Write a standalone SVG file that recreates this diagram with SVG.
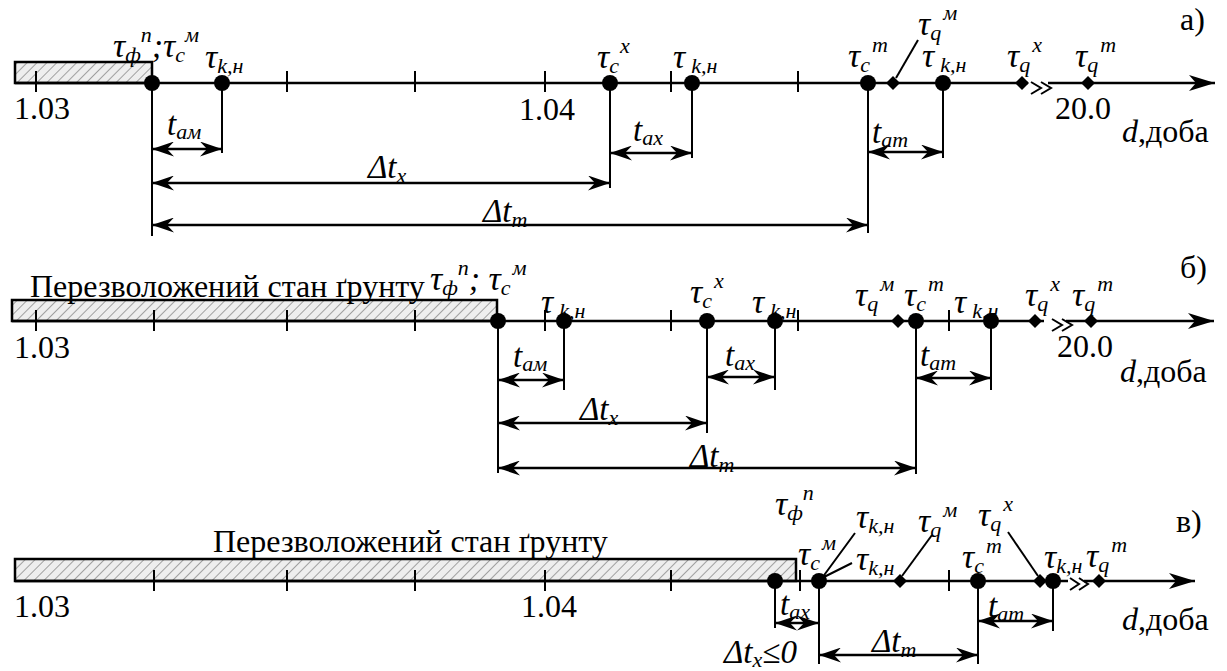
<svg xmlns="http://www.w3.org/2000/svg" width="1227" height="671" viewBox="0 0 1227 671">
<style>
.n{font-size:32px}
.tau{font-size:34px;font-style:italic}
.t{font-size:33px;font-style:italic}
.s{font-size:22px}
.ax{stroke:#000;stroke-width:2.5;fill:none}
.axa{stroke:#000;stroke-width:2.5;fill:none;marker-end:url(#ahead)}
.tk{stroke:#000;stroke-width:2;fill:none}
.ext{stroke:#000;stroke-width:2;fill:none}
.dim{stroke:#000;stroke-width:2.5;fill:none;marker-start:url(#darr);marker-end:url(#darr)}
.ld{stroke:#000;stroke-width:2;fill:none}
.brk{stroke:#000;stroke-width:2;fill:none}
.hat{fill:url(#hatch);stroke:#000;stroke-width:2.5}
.pt{fill:#000}
</style>
<defs>
<pattern id="hatch" patternUnits="userSpaceOnUse" width="7" height="7" patternTransform="rotate(45)">
<rect width="7" height="7" fill="#eeeeee"/>
<line x1="0" y1="0" x2="0" y2="7" stroke="#a0a0a0" stroke-width="2"/>
</pattern>
<marker id="darr" markerUnits="userSpaceOnUse" viewBox="0 0 22 15" markerWidth="22" markerHeight="15" refX="22" refY="7.5" orient="auto-start-reverse">
<path d="M0,0 L22,7.5 L0,15 L7,7.5 Z" fill="#000"/>
</marker>
<marker id="ahead" markerUnits="userSpaceOnUse" viewBox="0 0 26 16" markerWidth="26" markerHeight="16" refX="26" refY="8" orient="auto">
<path d="M0,0 L26,8 L0,16 L7,8 Z" fill="#000"/>
</marker>
<path id="dia" d="M0,-7 L7,0 L0,7 L-7,0 Z"/>
</defs>

<!-- ================= Panel a ================= -->
<g id="panel-a">
  <g id="a-axis">
    <rect class="hat" x="15" y="62" width="137" height="21"/>
    <path class="ax" d="M15,83 H1028"/>
    <path class="axa" d="M1048,83 H1215"/>
    <path class="tk" d="M36,71 V92 M287,71 V92 M415,71 V92 M545,71 V92 M671,71 V92 M798,71 V92"/>
    <path class="brk" d="M1031,82 L1041,88 L1031,94 M1041,82 L1051,88 L1041,94"/>
    <text class="n" style="font-family:'Liberation Serif'" x="14" y="119">1.03</text>
    <text class="n" style="font-family:'Liberation Serif'" x="519" y="120">1.04</text>
    <text class="n" style="font-family:'Liberation Serif'" x="1055" y="119">20.0</text>
    <text class="n" style="font-family:'Liberation Serif'" x="1122" y="142"><tspan font-style="italic">d</tspan>,доба</text>
    <text class="n" style="font-family:'Liberation Serif'" x="1180" y="30">а)</text>
  </g>
  <g id="a-n1"><circle class="pt" cx="152" cy="83" r="8"/>
    <text class="tau" style="font-family:'Liberation Serif'" x="113" y="57">τ<tspan class="s" dy="5">ф</tspan><tspan class="s" dy="-20">n</tspan><tspan dy="15">;τ</tspan><tspan class="s" dy="5">c</tspan><tspan class="s" dy="-20">м</tspan></text></g>
  <g id="a-n2"><circle class="pt" cx="222" cy="83" r="8"/>
    <text class="tau" style="font-family:'Liberation Serif'" x="205" y="68">τ<tspan class="s" dy="5">k,н</tspan></text></g>
  <g id="a-n3"><circle class="pt" cx="610" cy="83" r="8"/>
    <text class="tau" style="font-family:'Liberation Serif'" x="597" y="68">τ<tspan class="s" dy="5">c</tspan><tspan class="s" dy="-20" dx="1">x</tspan></text></g>
  <g id="a-n4"><circle class="pt" cx="692" cy="83" r="8"/>
    <text class="tau" style="font-family:'Liberation Serif'" x="673" y="68">τ<tspan class="s" dy="5" dx="6">k,н</tspan></text></g>
  <g id="a-n5"><circle class="pt" cx="868" cy="83" r="8"/>
    <text class="tau" style="font-family:'Liberation Serif'" x="848" y="67">τ<tspan class="s" dy="5">c</tspan><tspan class="s" dy="-20" dx="2">m</tspan></text></g>
  <g id="a-n6"><use href="#dia" x="893" y="83"/>
    <path class="ld" d="M918,40 L896,78"/>
    <text class="tau" style="font-family:'Liberation Serif'" x="918" y="35">τ<tspan class="s" dy="5">q</tspan><tspan class="s" dy="-20" dx="2">м</tspan></text></g>
  <g id="a-n7"><circle class="pt" cx="943" cy="83" r="8"/>
    <text class="tau" style="font-family:'Liberation Serif'" x="922" y="67">τ<tspan class="s" dy="5" dx="6">k,н</tspan></text></g>
  <g id="a-n8"><use href="#dia" x="1022" y="83"/>
    <text class="tau" style="font-family:'Liberation Serif'" x="1007" y="67">τ<tspan class="s" dy="5">q</tspan><tspan class="s" dy="-20" dx="2">x</tspan></text></g>
  <g id="a-n9"><use href="#dia" x="1088" y="83"/>
    <text class="tau" style="font-family:'Liberation Serif'" x="1075" y="67">τ<tspan class="s" dy="5">q</tspan><tspan class="s" dy="-20" dx="2">m</tspan></text></g>
  <g id="a-connectors">
    <path class="ext" d="M152,83 V236 M222,83 V153 M610,83 V188 M692,83 V158 M868,83 V233 M943,83 V158"/>
    <path class="dim" d="M152,149 H222"/>
    <path class="dim" d="M610,153 H692"/>
    <path class="dim" d="M868,152 H943"/>
    <path class="dim" d="M152,183 H610"/>
    <path class="dim" d="M152,225 H868"/>
    <text class="t" style="font-family:'Liberation Serif'" x="167" y="135">t<tspan class="s" dy="4">ам</tspan></text>
    <text class="t" style="font-family:'Liberation Serif'" x="633" y="141">t<tspan class="s" dy="4">ax</tspan></text>
    <text class="t" style="font-family:'Liberation Serif'" x="872" y="143">t<tspan class="s" dy="4">am</tspan></text>
    <text class="t" style="font-family:'Liberation Serif'" x="368" y="178">Δt<tspan class="s" dy="5">x</tspan></text>
    <text class="t" style="font-family:'Liberation Serif'" x="483" y="222">Δt<tspan class="s" dy="5">m</tspan></text>
  </g>
</g>

<!-- ================= Panel b ================= -->
<g id="panel-b">
  <g id="b-axis">
    <rect class="hat" x="12" y="300" width="485" height="21"/>
    <path class="ax" d="M12,321 H1044"/>
    <path class="axa" d="M1066,321 H1214"/>
    <path class="tk" d="M36,310 V331 M154,310 V331 M287,310 V331 M415,310 V331 M545,310 V331 M671,310 V331 M798,310 V331 M949,310 V331"/>
    <path class="brk" d="M1052,319 L1062,325 L1052,331 M1062,319 L1072,325 L1062,331"/>
    <text class="n" style="font-family:'Liberation Serif'" x="30" y="297">Перезволожений стан ґрунту</text>
    <text class="n" style="font-family:'Liberation Serif'" x="14" y="358">1.03</text>
    <text class="n" style="font-family:'Liberation Serif'" x="1057" y="357">20.0</text>
    <text class="n" style="font-family:'Liberation Serif'" x="1120" y="382"><tspan font-style="italic">d</tspan>,доба</text>
    <text class="n" style="font-family:'Liberation Serif'" x="1180" y="278">б)</text>
  </g>
  <g id="b-n1"><circle class="pt" cx="498" cy="321" r="8"/>
    <text class="tau" style="font-family:'Liberation Serif'" x="430" y="290">τ<tspan class="s" dy="5">ф</tspan><tspan class="s" dy="-20">n</tspan><tspan dy="15">; τ</tspan><tspan class="s" dy="5">c</tspan><tspan class="s" dy="-20" dx="2">м</tspan></text></g>
  <g id="b-n2"><circle class="pt" cx="564" cy="321" r="8"/>
    <text class="tau" style="font-family:'Liberation Serif'" x="541" y="313">τ<tspan class="s" dy="5" dx="6">k,н</tspan></text></g>
  <g id="b-n3"><circle class="pt" cx="707" cy="321" r="8"/>
    <text class="tau" style="font-family:'Liberation Serif'" x="690" y="303">τ<tspan class="s" dy="5">c</tspan><tspan class="s" dy="-20" dx="2">x</tspan></text></g>
  <g id="b-n4"><circle class="pt" cx="775" cy="321" r="8"/>
    <text class="tau" style="font-family:'Liberation Serif'" x="752" y="313">τ<tspan class="s" dy="5" dx="6">k,н</tspan></text></g>
  <g id="b-n5"><use href="#dia" x="898" y="321"/>
    <text class="tau" style="font-family:'Liberation Serif'" x="855" y="306">τ<tspan class="s" dy="5">q</tspan><tspan class="s" dy="-20" dx="2">м</tspan></text></g>
  <g id="b-n6"><circle class="pt" cx="916" cy="321" r="8"/>
    <text class="tau" style="font-family:'Liberation Serif'" x="904" y="306">τ<tspan class="s" dy="5">c</tspan><tspan class="s" dy="-20" dx="2">m</tspan></text></g>
  <g id="b-n7"><circle class="pt" cx="991" cy="321" r="8"/>
    <text class="tau" style="font-family:'Liberation Serif'" x="954" y="313">τ<tspan class="s" dy="5" dx="6">k,н</tspan></text></g>
  <g id="b-n8"><use href="#dia" x="1035" y="321"/>
    <text class="tau" style="font-family:'Liberation Serif'" x="1025" y="306">τ<tspan class="s" dy="5">q</tspan><tspan class="s" dy="-20" dx="2">x</tspan></text></g>
  <g id="b-n9"><use href="#dia" x="1091" y="321"/>
    <text class="tau" style="font-family:'Liberation Serif'" x="1072" y="306">τ<tspan class="s" dy="5">q</tspan><tspan class="s" dy="-20" dx="2">m</tspan></text></g>
  <g id="b-connectors">
    <path class="ext" d="M498,321 V473 M564,321 V390 M707,321 V433 M775,321 V390 M916,321 V474 M991,321 V390"/>
    <path class="dim" d="M498,380 H564"/>
    <path class="dim" d="M707,377 H775"/>
    <path class="dim" d="M916,378 H991"/>
    <path class="dim" d="M498,423 H707"/>
    <path class="dim" d="M498,468 H916"/>
    <text class="t" style="font-family:'Liberation Serif'" x="513" y="367">t<tspan class="s" dy="4">ам</tspan></text>
    <text class="t" style="font-family:'Liberation Serif'" x="725" y="366">t<tspan class="s" dy="4">ax</tspan></text>
    <text class="t" style="font-family:'Liberation Serif'" x="920" y="366">t<tspan class="s" dy="4">am</tspan></text>
    <text class="t" style="font-family:'Liberation Serif'" x="580" y="420">Δt<tspan class="s" dy="5">x</tspan></text>
    <text class="t" style="font-family:'Liberation Serif'" x="690" y="467">Δt<tspan class="s" dy="5">m</tspan></text>
  </g>
</g>

<!-- ================= Panel c ================= -->
<g id="panel-c">
  <g id="c-axis">
    <rect class="hat" x="15" y="559" width="781" height="22"/>
    <path class="ax" d="M15,581 H1068"/>
    <path class="axa" d="M1084,581 H1195"/>
    <path class="tk" d="M154,570 V591 M287,570 V591 M415,570 V591 M545,570 V591 M671,570 V591 M800,570 V591 M949,570 V591"/>
    <path class="brk" d="M1070,578 L1079,584 L1070,590 M1079,578 L1088,584 L1079,590"/>
    <text class="n" style="font-family:'Liberation Serif'" x="213" y="552">Перезволожений стан ґрунту</text>
    <text class="n" style="font-family:'Liberation Serif'" x="14" y="617">1.03</text>
    <text class="n" style="font-family:'Liberation Serif'" x="521" y="617">1.04</text>
    <text class="n" style="font-family:'Liberation Serif'" x="1122" y="630"><tspan font-style="italic">d</tspan>,доба</text>
    <text class="n" style="font-family:'Liberation Serif'" x="1176" y="532">в)</text>
  </g>
  <g id="c-n1"><circle class="pt" cx="775" cy="581" r="8"/></g>
  <g id="c-n2"><circle class="pt" cx="819" cy="581" r="8"/>
    <text class="tau" style="font-family:'Liberation Serif'" x="775" y="515">τ<tspan class="s" dy="5">ф</tspan><tspan class="s" dy="-20">n</tspan></text>
    <text class="tau" style="font-family:'Liberation Serif'" x="798" y="565">τ<tspan class="s" dy="5">c</tspan><tspan class="s" dy="-20" dx="2">м</tspan></text>
    <path class="ld" d="M855,533 L822,578 M852,563 L822,578"/>
    <text class="tau" style="font-family:'Liberation Serif'" x="856" y="528">τ<tspan class="s" dy="5">k,н</tspan></text>
    <text class="tau" style="font-family:'Liberation Serif'" x="856" y="570">τ<tspan class="s" dy="5">k,н</tspan></text></g>
  <g id="c-n3"><use href="#dia" x="900" y="581"/>
    <path class="ld" d="M932,535 L902,576"/>
    <text class="tau" style="font-family:'Liberation Serif'" x="918" y="532">τ<tspan class="s" dy="5">q</tspan><tspan class="s" dy="-20" dx="2">м</tspan></text></g>
  <g id="c-n4"><circle class="pt" cx="978" cy="581" r="8"/>
    <text class="tau" style="font-family:'Liberation Serif'" x="962" y="568">τ<tspan class="s" dy="5">c</tspan><tspan class="s" dy="-20" dx="2">m</tspan></text></g>
  <g id="c-n5"><use href="#dia" x="1040" y="581"/>
    <path class="ld" d="M1008,532 L1038,576"/>
    <text class="tau" style="font-family:'Liberation Serif'" x="978" y="526">τ<tspan class="s" dy="5">q</tspan><tspan class="s" dy="-20" dx="2">x</tspan></text></g>
  <g id="c-n6"><circle class="pt" cx="1053" cy="581" r="8"/>
    <text class="tau" style="font-family:'Liberation Serif'" x="1044" y="568">τ<tspan class="s" dy="5">k,н</tspan></text></g>
  <g id="c-n7"><use href="#dia" x="1099" y="581"/>
    <text class="tau" style="font-family:'Liberation Serif'" x="1086" y="567">τ<tspan class="s" dy="5">q</tspan><tspan class="s" dy="-20" dx="2">m</tspan></text></g>
  <g id="c-connectors">
    <path class="ext" d="M775,581 V628 M819,581 V664 M978,581 V664 M1053,581 V631"/>
    <path class="dim" d="M775,623 H819"/>
    <path class="dim" d="M978,621 H1053"/>
    <path class="dim" d="M819,655 H978"/>
    <text class="t" style="font-family:'Liberation Serif'" x="780" y="615">t<tspan class="s" dy="4">ax</tspan></text>
    <text class="t" style="font-family:'Liberation Serif'" x="988" y="617">t<tspan class="s" dy="4">am</tspan></text>
    <text class="t" style="font-family:'Liberation Serif'" x="872" y="652">Δt<tspan class="s" dy="5">m</tspan></text>
    <text class="t" style="font-family:'Liberation Serif'" x="724" y="663">Δt<tspan class="s" dy="4">x</tspan><tspan dy="-4">≤0</tspan></text>
  </g>
</g>
</svg>
